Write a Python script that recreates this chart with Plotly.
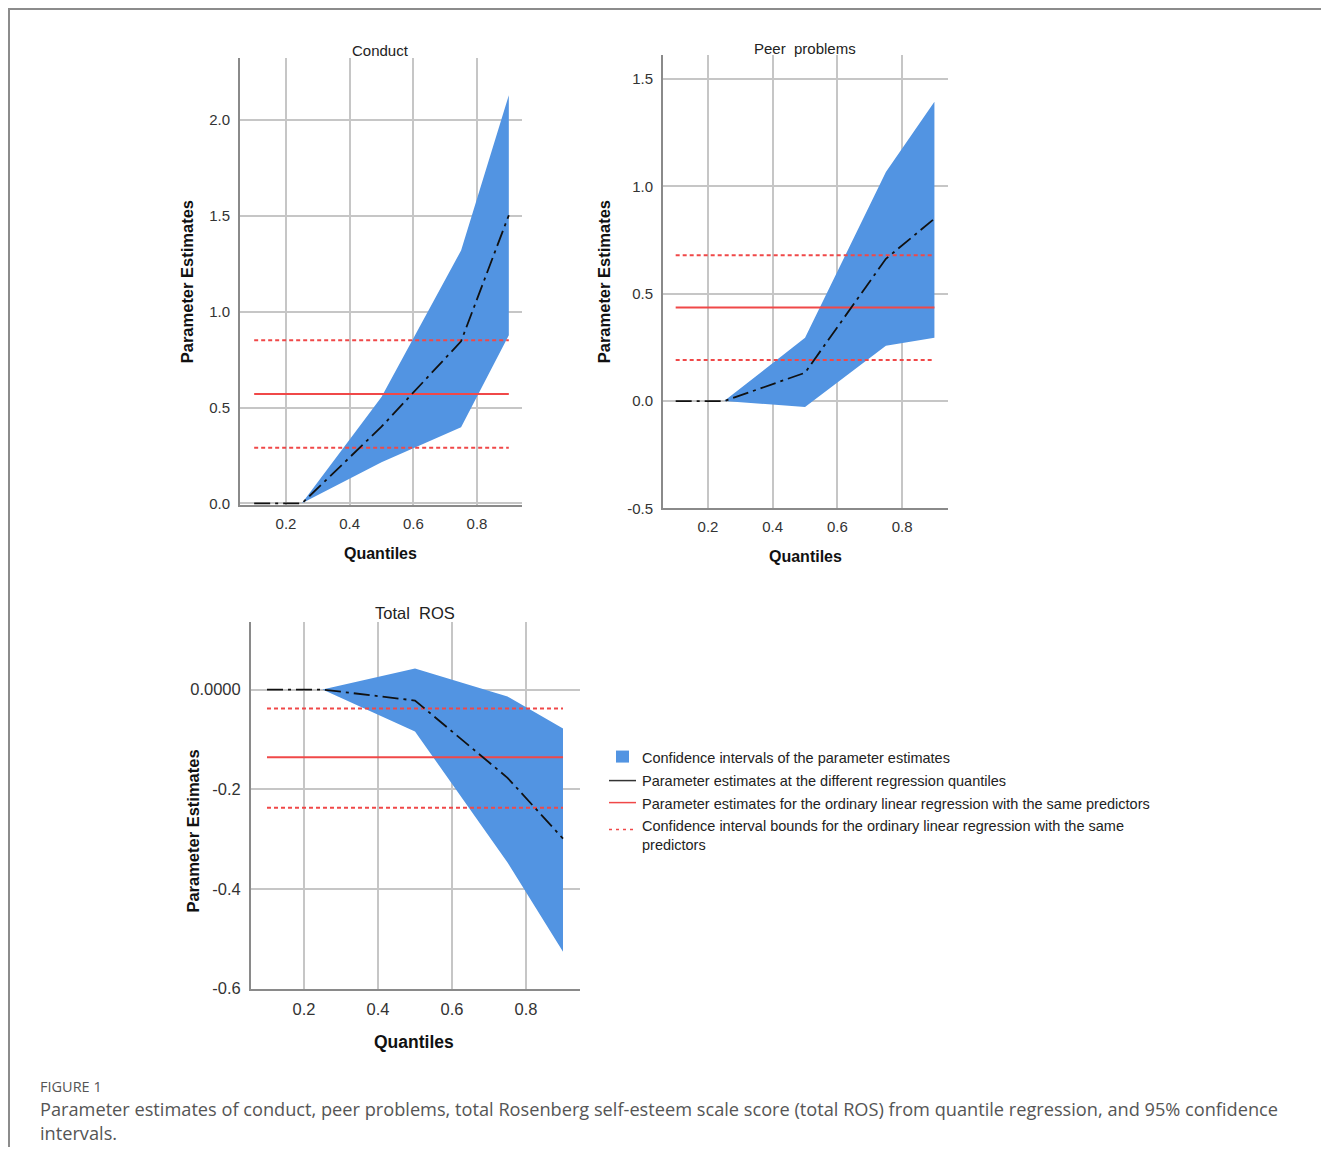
import plotly.graph_objects as go

# ---------------- data ----------------
quantiles = [0.1, 0.25, 0.5, 0.75, 0.9]

conduct_est = [0.0, 0.0, 0.40, 0.846, 1.504]
conduct_lo = [0.0, 0.0, 0.214, 0.397, 0.877]
conduct_hi = [0.0, 0.0, 0.555, 1.32, 2.13]
conduct_ols = 0.571
conduct_ols_lo = 0.29
conduct_ols_hi = 0.851

peer_est = [0.0, 0.0, 0.132, 0.663, 0.85]
peer_lo = [0.0, 0.0, -0.027, 0.258, 0.295]
peer_hi = [0.0, 0.0, 0.295, 1.067, 1.395]
peer_ols = 0.436
peer_ols_lo = 0.191
peer_ols_hi = 0.68

ros_est = [0.0, 0.0, -0.022, -0.177, -0.299]
ros_lo = [0.0, 0.0, -0.084, -0.347, -0.526]
ros_hi = [0.0, 0.0, 0.042, -0.014, -0.078]
ros_ols = -0.136
ros_ols_lo = -0.237
ros_ols_hi = -0.038

panel_titles = ["Conduct", "Peer&nbsp; problems", "Total&nbsp; ROS"]
x_ticks = [0.2, 0.4, 0.6, 0.8]
conduct_yticks = [0.0, 0.5, 1.0, 1.5, 2.0]
peer_yticks = [-0.5, 0.0, 0.5, 1.0, 1.5]
ros_yticks = [0.0, -0.2, -0.4, -0.6]
ros_yticklabels = ["0.0000", "-0.2", "-0.4", "-0.6"]

legend_labels = [
    "Confidence intervals of the parameter estimates",
    "Parameter estimates at the different regression quantiles",
    "Parameter estimates for the ordinary linear regression with the same predictors",
    "Confidence interval bounds for the ordinary linear regression with the same<br>predictors",
]
caption_label = "FIGURE 1"
caption_text = ("Parameter estimates of conduct, peer problems, total Rosenberg self-esteem scale score "
                "(total ROS) from quantile regression, and 95% confidence<br>intervals.")

# ---------------- style ----------------
OFF = 8                      # default body margin of the exported html page
VS = 0.9915                  # vertical scale observed between page and captured picture
W, H = 1329 - 2 * OFF, 1148
BLUE = "#5294e2"
RED = "#f04848"
FONT = "Liberation Sans, Arial, sans-serif"


def px(x):
    return (x - OFF) / W


def py(y):
    return 1 - (y / VS - OFF) / H


fig = go.Figure()

panels = [
    dict(est=conduct_est, lo=conduct_lo, hi=conduct_hi, ols=conduct_ols, olo=conduct_ols_lo, ohi=conduct_ols_hi,
         xa="x", ya="y"),
    dict(est=peer_est, lo=peer_lo, hi=peer_hi, ols=peer_ols, olo=peer_ols_lo, ohi=peer_ols_hi,
         xa="x2", ya="y2"),
    dict(est=ros_est, lo=ros_lo, hi=ros_hi, ols=ros_ols, olo=ros_ols_lo, ohi=ros_ols_hi,
         xa="x3", ya="y3"),
]

for p in panels:
    qx = [quantiles[0], quantiles[-1]]
    fig.add_trace(go.Scatter(
        x=quantiles + quantiles[::-1], y=p["hi"] + p["lo"][::-1],
        fill="toself", fillcolor=BLUE, mode="lines", line=dict(width=0, color=BLUE),
        xaxis=p["xa"], yaxis=p["ya"], showlegend=False, hoverinfo="skip"))
    for val, dash, wdt in [(p["olo"], "4px,3px", 2), (p["ohi"], "4px,3px", 2), (p["ols"], "solid", 2)]:
        fig.add_trace(go.Scatter(
            x=qx, y=[val, val], mode="lines", line=dict(color=RED, width=wdt, dash=dash),
            xaxis=p["xa"], yaxis=p["ya"], showlegend=False))
    fig.add_trace(go.Scatter(
        x=quantiles, y=p["est"], mode="lines",
        line=dict(color="#111111", width=1.8, dash="16px,5px,3px,5px"),
        xaxis=p["xa"], yaxis=p["ya"], showlegend=False))

axis_common = dict(
    showline=True, linecolor="#8a8a8a", linewidth=2, mirror=False,
    showgrid=True, gridcolor="#c6c6c6", gridwidth=1.5, zeroline=False,
    ticks="", layer="below traces",
    fixedrange=True,
)

# panel pixel boxes: (left, right, top, bottom)
boxes = [(240, 522, 58, 504.5), (663, 948, 55, 508), (251, 580, 622, 988)]
tick_sizes = [15, 15, 16.5]

xranges = [[0.0555, 0.9414], [0.0608, 0.942], [0.0568, 0.9459]]
yranges = [[-0.008, 2.324], [-0.5, 1.612], [-0.6, 0.1345]]

layout_axes = {}
for i, (b, xr, yr, ts) in enumerate(zip(boxes, xranges, yranges, tick_sizes)):
    sfx = "" if i == 0 else str(i + 1)
    l, r, t, bt = b
    tf = dict(family=FONT, size=ts, color="#333333")
    layout_axes["xaxis" + sfx] = dict(
        axis_common, domain=[px(l), px(r)], range=xr, tickvals=x_ticks, tickfont=tf,
        ticktext=[f"{v:.1f}" for v in x_ticks], anchor="y" + sfx, ticklabelstandoff=4)
    if i == 0:
        yt = dict(tickvals=conduct_yticks, ticktext=[f"{v:.1f}" for v in conduct_yticks])
    elif i == 1:
        yt = dict(tickvals=peer_yticks, ticktext=[f"{v:.1f}" for v in peer_yticks])
    else:
        yt = dict(tickvals=ros_yticks, ticktext=ros_yticklabels)
    layout_axes["yaxis" + sfx] = dict(
        axis_common, domain=[py(bt), py(t)], range=yr, anchor="x" + sfx, ticklabelstandoff=5,
        tickfont=tf, **yt)

annotations = []
# panel titles
title_pos = [(380, 50), (805, 48), (415, 613)]
title_sizes = [15, 15, 16.5]
for txt, (x, y), s in zip(panel_titles, title_pos, title_sizes):
    annotations.append(dict(x=px(x), y=py(y), xref="paper", yref="paper", text=txt, showarrow=False,
                            font=dict(family=FONT, size=s, color="#222222"), xanchor="center", yanchor="middle"))
# axis titles
ytitle_pos = [(187, 282), (604, 282), (193, 831)]
for (x, y) in ytitle_pos:
    annotations.append(dict(x=px(x), y=py(y), xref="paper", yref="paper", text="<b>Parameter Estimates</b>",
                            showarrow=False, textangle=-90,
                            font=dict(family=FONT, size=16.5, color="#111111"), xanchor="center", yanchor="middle"))
xtitle_pos = [(380, 553), (805, 556), (414, 1041)]
xtitle_sizes = [16, 16, 17.5]
for (x, y), s in zip(xtitle_pos, xtitle_sizes):
    annotations.append(dict(x=px(x), y=py(y), xref="paper", yref="paper", text="<b>Quantiles</b>",
                            showarrow=False, font=dict(family=FONT, size=s, color="#111111"),
                            xanchor="center", yanchor="middle"))

# legend (manual)
leg_y = [757, 780, 803, 835]
for txt, y in zip(legend_labels, leg_y):
    annotations.append(dict(x=px(640), y=py(y), xref="paper", yref="paper", text=txt, showarrow=False,
                            align="left", font=dict(family=FONT, size=14.5, color="#222222"),
                            xanchor="left", yanchor="middle"))

shapes = [
    dict(type="rect", xref="paper", yref="paper", x0=px(616), x1=px(629), y0=py(750), y1=py(762),
         fillcolor=BLUE, line=dict(width=0)),
    dict(type="line", xref="paper", yref="paper", x0=px(609), x1=px(636), y0=py(780), y1=py(780),
         line=dict(color="#333333", width=1.5)),
    dict(type="line", xref="paper", yref="paper", x0=px(609), x1=px(636), y0=py(802), y1=py(802),
         line=dict(color=RED, width=1.5)),
    dict(type="line", xref="paper", yref="paper", x0=px(609), x1=px(636), y0=py(829), y1=py(829),
         line=dict(color=RED, width=1.5, dash="3px,4px")),
    # frame
    dict(type="line", xref="paper", yref="paper", x0=0, x1=1, y0=py(9), y1=py(9),
         line=dict(color="#8c8c8c", width=2)),
    dict(type="line", xref="paper", yref="paper", x0=px(9), x1=px(9), y0=py(8), y1=0,
         line=dict(color="#8c8c8c", width=2)),
]

# caption
annotations.append(dict(x=px(38), y=py(1086), xref="paper", yref="paper", text=caption_label, showarrow=False,
                        font=dict(family="Open Sans, sans-serif", size=14.5, color="#555555"),
                        xanchor="left", yanchor="middle"))
annotations.append(dict(x=px(38), y=py(1120), xref="paper", yref="paper", text=caption_text, showarrow=False,
                        align="left", font=dict(family="Open Sans, sans-serif", size=18.2, color="#555555"),
                        xanchor="left", yanchor="middle"))

fig.update_layout(
    width=W, height=H, margin=dict(l=0, r=0, t=0, b=0),
    paper_bgcolor="white", plot_bgcolor="white", showlegend=False,
    annotations=annotations, shapes=shapes, **layout_axes,
)

fig.write_html("out.html")
